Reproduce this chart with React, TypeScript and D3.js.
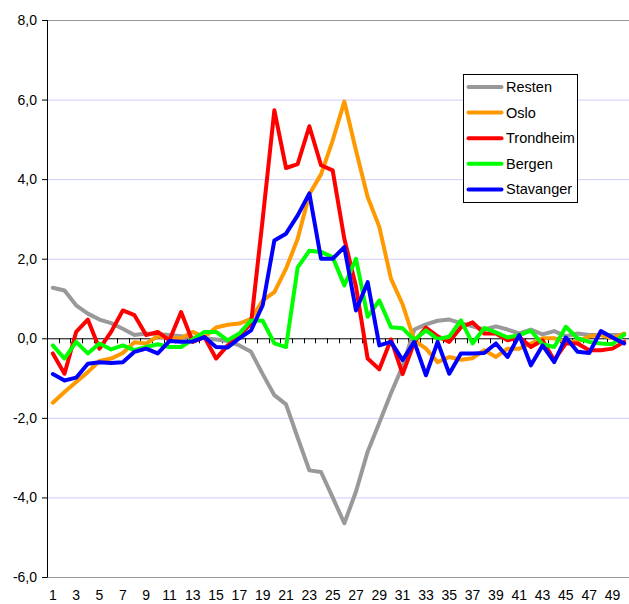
import React, { useEffect, useRef } from 'react';
import * as d3 from 'd3';

// kategorier 1..50
const weeks = d3.range(1, 51);
const xLabels = d3.range(1, 50, 2);
const yTicks = [-6, -4, -2, 0, 2, 4, 6, 8];

const resten = [1.27, 1.2, 0.83, 0.62, 0.47, 0.38, 0.24, 0.08, 0.12, 0.1, 0.08, 0.05, 0.02, 0.0, -0.03, -0.07, -0.18, -0.34, -0.9, -1.43,
  -1.66, -2.5, -3.32, -3.36, -4.0, -4.65, -3.85, -2.85, -2.12, -1.38, -0.7, 0.22, 0.35, 0.44, 0.47, 0.38, 0.3, 0.22, 0.3, 0.22,
  0.12, 0.22, 0.1, 0.18, 0.05, 0.12, 0.08, 0.08, 0.08, 0.08];
const oslo = [-1.62, -1.35, -1.1, -0.85, -0.57, -0.51, -0.37, -0.1, -0.13, 0.05, 0.0, 0.0, 0.16, 0.03, 0.27, 0.34, 0.37, 0.49, 0.95, 1.16,
  1.75, 2.5, 3.62, 4.12, 4.97, 5.95, 4.72, 3.55, 2.8, 1.5, 0.85, -0.05, -0.26, -0.6, -0.47, -0.54, -0.5, -0.3, -0.47, -0.26,
  -0.26, -0.13, 0.0, 0.0, -0.09, -0.09, 0.05, 0.08, 0.0, 0.12];
const trondheim = [-0.38, -0.89, 0.16, 0.47, -0.26, 0.16, 0.7, 0.58, 0.08, 0.16, -0.05, 0.66, -0.09, 0.03, -0.51, -0.18, 0.08, 0.37, 3.0, 5.73,
  4.28, 4.38, 5.33, 4.35, 4.22, 2.5, 1.3, -0.51, -0.78, -0.03, -0.9, -0.1, 0.27, 0.05, -0.09, 0.28, 0.4, 0.12, 0.12, -0.05,
  0.03, -0.22, -0.05, -0.55, -0.13, -0.13, -0.3, -0.3, -0.26, -0.09];
const bergen = [-0.18, -0.51, -0.09, -0.38, -0.13, -0.28, -0.18, -0.3, -0.22, -0.15, -0.22, -0.22, -0.03, 0.16, 0.16, -0.05, 0.12, 0.45, 0.44, -0.13,
  -0.22, 1.78, 2.2, 2.17, 2.04, 1.33, 2.0, 0.54, 0.95, 0.28, 0.25, -0.04, 0.2, -0.02, 0.04, 0.45, -0.13, 0.26, 0.15, 0.02,
  0.08, 0.19, -0.15, -0.22, 0.29, 0.0, -0.09, -0.13, -0.15, 0.1];
const stavanger = [-0.9, -1.06, -0.99, -0.64, -0.6, -0.62, -0.6, -0.34, -0.26, -0.38, -0.07, -0.09, -0.08, 0.03, -0.22, -0.23, 0.0, 0.2, 0.83, 2.46,
  2.63, 3.09, 3.64, 2.0, 2.0, 2.29, 0.7, 1.41, -0.18, -0.09, -0.55, -0.09, -0.93, -0.09, -0.89, -0.38, -0.38, -0.37, -0.13, -0.47,
  0.08, -0.68, -0.18, -0.6, 0.02, -0.34, -0.37, 0.18, 0.02, -0.13];

const seriesNames = ['Resten', 'Oslo', 'Trondheim', 'Bergen', 'Stavanger'];
const seriesValues = [resten, oslo, trondheim, bergen, stavanger];
const seriesColors = ['#999999', '#ff9900', '#ff0000', '#00ff00', '#0000ff'];

const width = 629;
const height = 604;
const font = 'Liberation Sans, Arial, sans-serif';

export default function App() {
  const box = useRef<SVGSVGElement | null>(null);

  useEffect(() => {
    const svg = d3.select(box.current);
    svg.selectAll('*').remove();

    const x = d3.scaleBand<number>().domain(weeks).range([47, 630]);
    const y = d3.scaleLinear().domain([-6, 8]).range([577, 20]);
    const cx = (d: number) => (x(d) as number) + x.bandwidth() / 2;
    const fmt = (v: number) => d3.format('.1f')(v).replace('.', ',').replace('−', '-');

    // rutenett
    svg.append('g')
      .selectAll('line')
      .data(yTicks.filter(t => t !== 0))
      .enter()
      .append('line')
      .attr('x1', 47)
      .attr('x2', 630)
      .attr('y1', d => y(d) + 0.5)
      .attr('y2', d => y(d) + 0.5)
      .attr('stroke', d => (d === 8 || d === -6) ? '#999999' : '#ccccff')
      .attr('stroke-width', 1);

    // y-akse
    svg.append('line')
      .attr('x1', 47.5).attr('x2', 47.5)
      .attr('y1', y(8)).attr('y2', y(-6) + 0.5)
      .attr('stroke', '#000');
    svg.append('g')
      .selectAll('line')
      .data(yTicks)
      .enter()
      .append('line')
      .attr('x1', 42).attr('x2', 47)
      .attr('y1', d => y(d) + 0.5).attr('y2', d => y(d) + 0.5)
      .attr('stroke', '#000');
    svg.append('g')
      .selectAll('text')
      .data(yTicks)
      .enter()
      .append('text')
      .attr('x', 37)
      .attr('y', d => y(d) + 5)
      .attr('text-anchor', 'end')
      .attr('font-size', 14)
      .attr('font-family', font)
      .attr('fill', '#000')
      .text(d => fmt(d));

    // x-akse ved 0
    svg.append('line')
      .attr('x1', 47).attr('x2', 630)
      .attr('y1', y(0) + 0.5).attr('y2', y(0) + 0.5)
      .attr('stroke', '#000');
    svg.append('g')
      .selectAll('line')
      .data(weeks)
      .enter()
      .append('line')
      .attr('x1', d => Math.round(x(d) as number) + 0.5)
      .attr('x2', d => Math.round(x(d) as number) + 0.5)
      .attr('y1', y(0))
      .attr('y2', y(0) + 5)
      .attr('stroke', '#000');
    svg.append('g')
      .selectAll('text')
      .data(xLabels)
      .enter()
      .append('text')
      .attr('x', d => cx(d))
      .attr('y', 600)
      .attr('text-anchor', 'middle')
      .attr('font-size', 14)
      .attr('font-family', font)
      .attr('fill', '#000')
      .text(d => d);

    // linjer
    const line = d3.line<number>()
      .x((d, i) => cx(weeks[i]))
      .y(d => y(d));
    seriesValues.forEach((vals, i) => {
      svg.append('path')
        .attr('d', line(vals))
        .attr('fill', 'none')
        .attr('stroke', seriesColors[i])
        .attr('stroke-width', 4)
        .attr('stroke-linejoin', 'round')
        .attr('stroke-linecap', 'round');
    });

    // tegnforklaring
    const lg = svg.append('g').attr('transform', 'translate(463.5,74.5)');
    lg.append('rect')
      .attr('width', 114).attr('height', 128)
      .attr('fill', '#fff').attr('stroke', '#000');
    seriesNames.forEach((name, i) => {
      const yy = 12.5 + i * 25.6;
      lg.append('line')
        .attr('x1', 5).attr('x2', 38)
        .attr('y1', yy).attr('y2', yy)
        .attr('stroke', seriesColors[i])
        .attr('stroke-width', 4)
        .attr('stroke-linecap', 'round');
      lg.append('text')
        .attr('x', 42.5)
        .attr('y', yy + 5)
        .attr('font-size', 14.5)
        .attr('font-family', font)
        .attr('fill', '#000')
        .text(name);
    });
  }, []);

  return (
    <svg ref={box} width={width} height={height}
      style={{ position: 'absolute', left: 0, top: 0, display: 'block', background: '#fff' }} />
  );
}
